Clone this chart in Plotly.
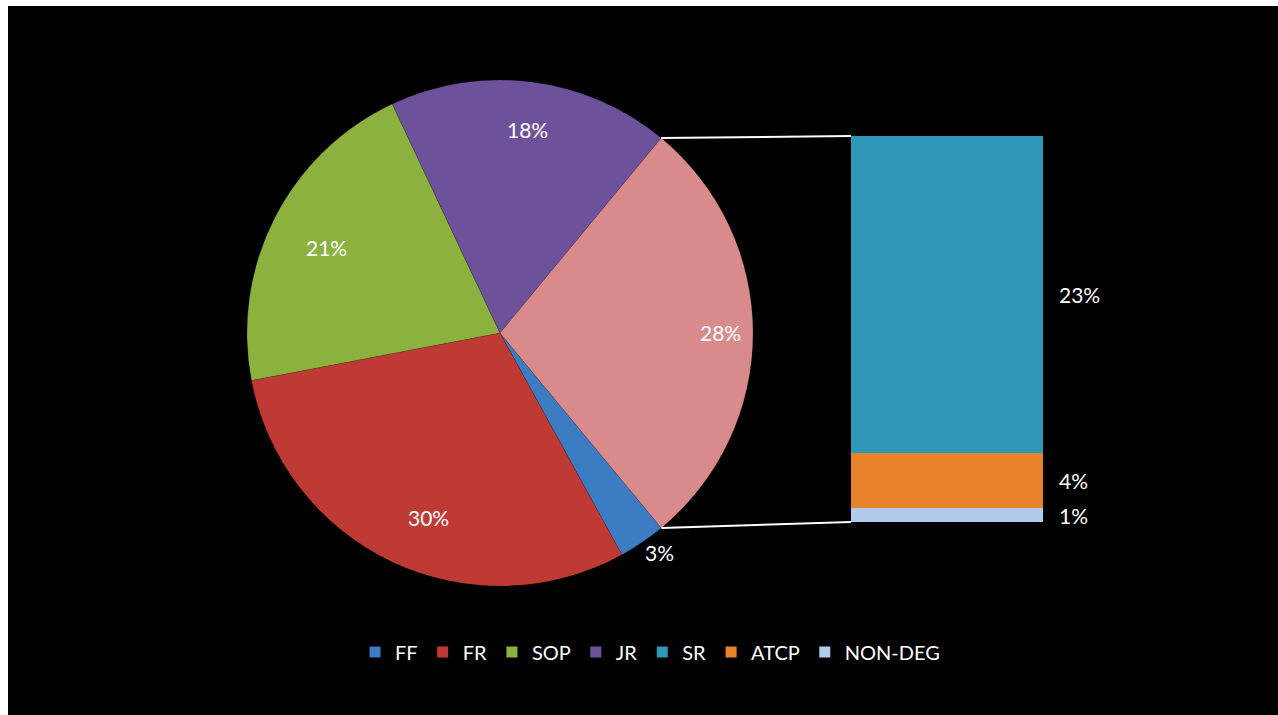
import math
import plotly.graph_objects as go

# pie slices (the last one is the "other" slice that is split out into the bar)
pie_labels = ["FF", "FR", "SOP", "JR", "Other"]
pie_values = [3, 30, 21, 18, 28]
pie_colors = ["#3b7cc2", "#bf3a34", "#8db13f", "#6e519b", "#d98b8b"]

# breakdown of the "other" slice, bottom to top
bar_labels = ["NON-DEG", "ATCP", "SR"]
bar_values = [1, 4, 23]
bar_colors = ["#b3cbeb", "#e8822b", "#2f97b7"]

legend_labels = ["FF", "FR", "SOP", "JR", "SR", "ATCP", "NON-DEG"]
legend_colors = ["#3b7cc2", "#bf3a34", "#8db13f", "#6e519b", "#2f97b7", "#e8822b", "#b3cbeb"]

W, H = 1278, 715
FONT = "Lato"

def px(x):
    return x / W

def py(y):
    return 1 - y / H

# pie geometry in pixels
cx, cy, R = 500, 333, 253
total = sum(pie_values)
rotation = 90 + pie_values[-1] / total * 180   # centre the "other" slice at 3 o'clock

# bar geometry in pixels
bx0, bx1, by_top, by_bot = 851, 1043, 136, 522

fig = go.Figure()

fig.add_trace(go.Pie(
    labels=pie_labels, values=pie_values, sort=False, direction="clockwise",
    rotation=rotation, textinfo="none", showlegend=False, hoverinfo="skip",
    marker=dict(colors=pie_colors, line=dict(color="rgba(0,0,0,0.25)", width=0.5)),
    domain=dict(x=[px(cx - R), px(cx + R)], y=[py(cy + R), py(cy - R)]),
))

for lab, val, col in zip(bar_labels, bar_values, bar_colors):
    fig.add_trace(go.Bar(
        x=[0], y=[val], name=lab, width=1, marker=dict(color=col, line=dict(width=0)),
        showlegend=False, xaxis="x", yaxis="y", hoverinfo="skip",
    ))

for lab, col in zip(legend_labels, legend_colors):
    fig.add_trace(go.Scatter(
        x=[None], y=[None], mode="markers", name=lab,
        marker=dict(symbol="square", size=11, color=col),
    ))

annotations = []
# pie labels
cum = 0
for lab, val in zip(pie_labels, pie_values):
    mid = rotation + (cum + val / 2) / total * 360
    cum += val
    r = 0.87 * R if val >= 5 else 1.12 * R
    a = math.radians(mid)
    lx = cx + r * math.sin(a)
    ly = cy - r * math.cos(a)
    annotations.append(dict(
        x=px(lx), y=py(ly), xref="paper", yref="paper", text=f"{val}%",
        showarrow=False, font=dict(color="white", size=21, family=FONT),
    ))

# bar labels
base = 0
for lab, val in zip(bar_labels, bar_values):
    annotations.append(dict(
        x=0.5, y=base + val / 2, xref="x", yref="y", text=f"{val}%",
        xanchor="left", xshift=14, showarrow=False,
        font=dict(color="white", size=21, family=FONT),
    ))
    base += val

# connector lines from the "other" slice edges to the bar corners
a_top = math.radians(rotation + (total - pie_values[-1]) / total * 360)
a_bot = math.radians(rotation)
shapes = [
    dict(type="line", xref="paper", yref="paper",
         x0=px(cx + R * math.sin(a_top)), y0=py(cy - R * math.cos(a_top)),
         x1=px(bx0), y1=py(by_top), line=dict(color="white", width=2)),
    dict(type="line", xref="paper", yref="paper",
         x0=px(cx + R * math.sin(a_bot)), y0=py(cy - R * math.cos(a_bot)),
         x1=px(bx0), y1=py(by_bot), line=dict(color="white", width=2)),
    # white strips along the top and left edge of the cropped slide
    dict(type="rect", xref="paper", yref="paper", x0=0, x1=px(8), y0=0, y1=1,
         fillcolor="white", line=dict(width=0), layer="above"),
    dict(type="rect", xref="paper", yref="paper", x0=0, x1=1, y0=py(6), y1=1,
         fillcolor="white", line=dict(width=0), layer="above"),
]

fig.update_layout(
    width=W, height=H,
    margin=dict(l=0, r=0, t=0, b=0),
    paper_bgcolor="black", plot_bgcolor="black",
    barmode="stack", bargap=0,
    xaxis=dict(domain=[px(bx0), px(bx1)], range=[-0.5, 0.5], visible=False, fixedrange=True),
    yaxis=dict(domain=[py(by_bot), py(by_top)], range=[0, total - sum(pie_values[:-1])],
               visible=False, fixedrange=True),
    legend=dict(orientation="h", traceorder="normal", x=px(650), xanchor="center",
                y=py(652), yanchor="middle",
                font=dict(color="white", size=20, family=FONT), bgcolor="rgba(0,0,0,0)",
                itemwidth=30, tracegroupgap=0),
    annotations=annotations,
    shapes=shapes,
)

# drop the default page margin and scrollbars so the figure fills the window
fig.write_html(
    "out.html",
    config={"displayModeBar": False},
    post_script="document.body.style.margin='0px';document.body.style.overflow='hidden';"
                "document.documentElement.style.overflow='hidden';"
                "document.body.style.background='black';",
)
